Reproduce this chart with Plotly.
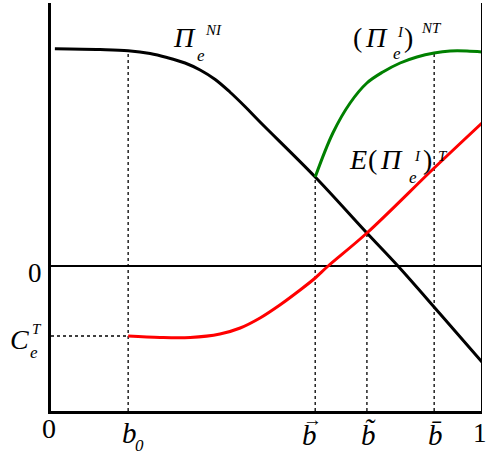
import plotly.graph_objects as go

# reference points on the horizontal axis
b0 = 0.179
b_arrow = 0.613
b_tilde = 0.733
b_bar = 0.889
ce_level = -0.70

# Pi_e^NI (black)
ni_x = [0.009, 0.114, 0.179, 0.230, 0.269, 0.311, 0.346, 0.381, 0.415, 0.450, 0.485,
        0.613, 0.733, 0.805, 0.903, 1.0]
ni_y = [2.173, 2.165, 2.153, 2.125, 2.085, 2.03, 1.96, 1.865, 1.74, 1.595, 1.44,
        0.89, 0.33, 0.0, -0.48, -0.96]

# (Pi_e^I)^NT (green)
nt_x = [0.613, 0.654, 0.694, 0.733, 0.770, 0.810, 0.849, 0.889, 0.926, 0.965, 1.0]
nt_y = [0.89, 1.33, 1.63, 1.83, 1.94, 2.03, 2.09, 2.13, 2.15, 2.15, 2.14]

# E(Pi_e^I)^T (red)
t_x = [0.179, 0.253, 0.323, 0.392, 0.439, 0.485, 0.531, 0.578, 0.613, 0.643, 0.733, 0.889, 1.0]
t_y = [-0.70, -0.715, -0.715, -0.68, -0.62, -0.52, -0.39, -0.24, -0.12, 0.0, 0.33, 0.98, 1.43]

Y_MIN, Y_MAX = -1.45, 2.63
W, H = 487, 461
ML, MR, MT, MB = 51, 5, 3, 50
FONT = "Liberation Serif"


def label(text, px, py, size, italic=True):
    # place a text by its pixel centre, in paper coordinates
    if italic:
        text = "<i>" + text + "</i>"
    return dict(text=text, x=(px - ML) / (W - ML - MR), y=1 - (py - MT) / (H - MT - MB),
                xref="paper", yref="paper", showarrow=False,
                xanchor="center", yanchor="middle",
                font=dict(family=FONT, size=size, color="black"))


fig = go.Figure()

dot = dict(color="black", width=1.3, dash="dot")
for bx, top in [(b0, ni_y[2]), (b_arrow, nt_y[0]), (b_tilde, t_y[10]), (b_bar, nt_y[7])]:
    fig.add_trace(go.Scatter(x=[bx, bx], y=[Y_MIN, top], mode="lines", line=dot, hoverinfo="skip"))
fig.add_trace(go.Scatter(x=[0, b0], y=[ce_level, ce_level], mode="lines", line=dot, hoverinfo="skip"))

# zero line
fig.add_trace(go.Scatter(x=[0, 1], y=[0, 0], mode="lines", line=dict(color="black", width=2)))

fig.add_trace(go.Scatter(x=ni_x, y=ni_y, mode="lines", line=dict(color="black", width=3, shape="spline")))
fig.add_trace(go.Scatter(x=nt_x, y=nt_y, mode="lines", line=dict(color="#008000", width=3, shape="spline")))
fig.add_trace(go.Scatter(x=t_x, y=t_y, mode="lines", line=dict(color="#ff0000", width=3, shape="spline")))

annotations = [
    # Pi_e^NI
    label("Π", 184.5, 37.5, 28), label("e", 201, 55, 17), label("NI", 213.5, 30, 15),
    # (Pi_e^I)^NT
    label("(", 357.5, 37, 28, False), label("Π", 376.5, 37, 28), label("e", 396.5, 53, 17),
    label("I", 400.5, 32.5, 15), label(")", 408.5, 37, 28, False), label("NT", 431, 28, 15),
    # E(Pi_e^I)^T
    label("E", 358, 159, 28), label("(", 372.5, 159, 28, False), label("Π", 391.5, 159, 28),
    label("e", 412.5, 177, 17), label("I", 417.5, 156, 15), label(")", 427.5, 159, 28, False),
    label("T", 442.5, 156, 15),
    # left labels
    label("0", 35, 273, 27, False),
    label("C", 19, 339, 28), label("T", 37, 329, 15), label("e", 33.5, 352, 17),
    # bottom labels
    label("0", 48.5, 428, 28, False),
    label("b", 129.5, 433, 29), label("0", 139, 446, 17),
    label("b", 309.5, 435, 29), label("→", 312, 420, 19, False),
    label("b\u0303", 368.5, 435, 29),
    label("b\u0304", 435, 435, 29),
    label("1", 480, 433, 27, False),
]

fig.add_shape(type="line", x0=1, x1=1, y0=Y_MIN, y1=Y_MAX, line=dict(color="black", width=2))

fig.update_layout(
    width=W, height=H,
    margin=dict(l=ML, r=MR, t=MT, b=MB),
    plot_bgcolor="white", paper_bgcolor="white",
    showlegend=False,
    annotations=annotations,
    xaxis=dict(range=[0, 1], showgrid=False, zeroline=False, showticklabels=False,
               showline=True, linecolor="black", linewidth=2.5),
    yaxis=dict(range=[Y_MIN, Y_MAX], showgrid=False, zeroline=False, showticklabels=False,
               showline=True, linecolor="black", linewidth=2.5),
)

fig.write_html("out.html", config={"displayModeBar": False},
               post_script="document.body.style.margin = '0';")
